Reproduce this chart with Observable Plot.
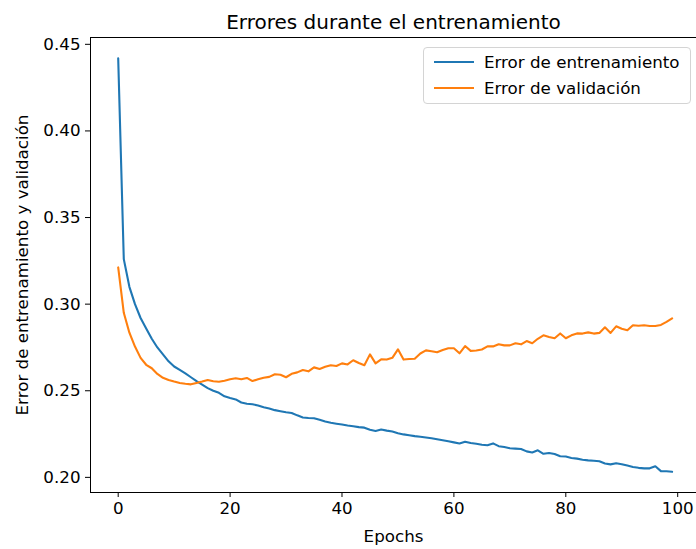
<!DOCTYPE html>
<html><head><meta charset="utf-8">
<script src="https://cdn.jsdelivr.net/npm/d3@7"></script>
<script src="https://cdn.jsdelivr.net/npm/@observablehq/plot@0.6"></script>
<style>
body{margin:0;background:#fff;font-family:"DejaVu Sans",sans-serif;}
#wrap{position:relative;width:696px;height:549px;overflow:hidden;}
#legend{position:absolute;left:423px;top:47px;width:266px;height:55px;border:1px solid #d4d4d4;border-radius:4px;background:rgba(255,255,255,0.8);font-size:16.7px;color:#000;}
.row{position:absolute;left:0;height:20px;display:flex;align-items:center;white-space:nowrap;}
.sw{width:40px;height:0;border-top:2.1px solid;margin-left:10px;margin-right:10px;}
</style></head><body>
<div id="wrap"><div id="legend"></div></div>
<script>
const seriesNames = ["Error de entrenamiento", "Error de validación"];
const seriesColors = ["#1f77b4", "#ff7f0e"];
const trainError = [
0.442,0.326,0.310,0.300,0.292,0.286,0.280,0.275,0.271,0.267,
0.264,0.262,0.260,0.2578,0.2555,0.2535,0.2515,0.2500,0.2488,0.2468,
0.2458,0.2450,0.2432,0.2425,0.2422,0.2415,0.2405,0.2398,0.2388,0.2382,
0.2376,0.2372,0.2358,0.2346,0.2343,0.2341,0.2332,0.2322,0.2315,0.2310,
0.2305,0.2299,0.2295,0.2290,0.2287,0.2275,0.2268,0.2276,0.2270,0.2265,
0.2255,0.2248,0.2243,0.2238,0.2234,0.2230,0.2226,0.2220,0.2214,0.2208,
0.2202,0.2196,0.2206,0.2198,0.2194,0.2188,0.2185,0.2196,0.2180,0.2175,
0.2168,0.2166,0.2164,0.2150,0.2144,0.2156,0.2136,0.2141,0.2135,0.2122,
0.2120,0.2112,0.2108,0.2102,0.2098,0.2096,0.2093,0.2080,0.2075,0.2081,
0.2076,0.2068,0.2060,0.2055,0.2052,0.2052,0.2064,0.2036,0.2035,0.2032];
const valError = [
0.3212,0.2950,0.2835,0.2755,0.2690,0.2650,0.2630,0.2597,0.2575,0.2562,
0.2553,0.2545,0.2540,0.2537,0.2545,0.2553,0.2562,0.2555,0.2552,0.2558,
0.2566,0.2572,0.2566,0.2574,0.2556,0.2566,0.2575,0.2580,0.2595,0.2592,
0.2578,0.2598,0.2606,0.2620,0.2612,0.2635,0.2626,0.2638,0.2647,0.2643,
0.2658,0.2652,0.2676,0.2660,0.2647,0.2710,0.2658,0.2681,0.2680,0.2690,
0.2739,0.2680,0.2683,0.2685,0.2715,0.2733,0.2728,0.2722,0.2735,0.2745,
0.2745,0.2716,0.2758,0.2730,0.2732,0.2738,0.2756,0.2756,0.2768,0.2762,
0.2762,0.2774,0.2768,0.2787,0.2774,0.2800,0.2820,0.2810,0.2803,0.2831,
0.2803,0.2820,0.2831,0.2830,0.2837,0.2830,0.2834,0.2866,0.2834,0.2872,
0.2858,0.2849,0.2878,0.2875,0.2878,0.2874,0.2874,0.2880,0.2898,0.2918];
const xTicks = [0, 20, 40, 60, 80, 100];
const yTicks = [0.20, 0.25, 0.30, 0.35, 0.40, 0.45];
const titleText = "Errores durante el entrenamiento";
const xLabel = "Epochs";
const yLabel = "Error de entrenamiento y validación";

const data = [];
trainError.forEach((v, i) => data.push({epoch: i, value: v, series: seriesNames[0]}));
valError.forEach((v, i) => data.push({epoch: i, value: v, series: seriesNames[1]}));

// matplotlib-like 5% margins; right spine falls just outside the picture
const n = trainError.length - 1;
const all = trainError.concat(valError);
const ymin = d3.min(all), ymax = d3.max(all);
const ypad = (ymax - ymin) * 0.05;
const xpad = n * 0.05;
const xDomain = [-xpad, -xpad + (696 - 90.3) / (609 / (n * 1.1))];
const yDomain = [ymin - ypad, ymax + ypad];

const font = "DejaVu Sans, sans-serif";
const chart = Plot.plot({
  width: 696, height: 549,
  marginLeft: 90, marginRight: 0, marginTop: 37, marginBottom: 57,
  style: {fontFamily: font, fontSize: "16.7px", color: "#000", background: "#fff"},
  x: {domain: xDomain},
  y: {domain: yDomain},
  color: {domain: seriesNames, range: seriesColors},
  marks: [
    Plot.ruleY([yDomain[0], yDomain[1]], {stroke: "#000", strokeWidth: 1}),
    Plot.ruleX([xDomain[0]], {stroke: "#000", strokeWidth: 1}),
    Plot.axisX({ticks: xTicks, tickSize: 5, tickPadding: 5, label: null, fontSize: 16.7}),
    Plot.axisY({ticks: yTicks, tickSize: 5, tickPadding: 5, label: null, tickFormat: d3.format(".2f"), fontSize: 16.7}),
    Plot.line(data, {x: "epoch", y: "value", stroke: "series", z: "series", strokeWidth: 2.1}),
    Plot.text([titleText], {frameAnchor: "top", dy: -23, fontSize: 20}),
    Plot.text([xLabel], {frameAnchor: "bottom", dy: 49, fontSize: 16.7}),
    Plot.text([yLabel], {frameAnchor: "left", textAnchor: "middle", rotate: -90, dx: -68, fontSize: 16.7})
  ]
});
const wrap = document.getElementById("wrap");
wrap.insertBefore(chart, wrap.firstChild);

const legend = document.getElementById("legend");
seriesNames.forEach((name, i) => {
  const row = document.createElement("div");
  row.className = "row";
  row.style.top = (4 + i * 26) + "px";
  const sw = document.createElement("div");
  sw.className = "sw";
  sw.style.borderTopColor = seriesColors[i];
  const t = document.createElement("span");
  t.textContent = name;
  row.appendChild(sw); row.appendChild(t);
  legend.appendChild(row);
});
</script>
</body></html>
